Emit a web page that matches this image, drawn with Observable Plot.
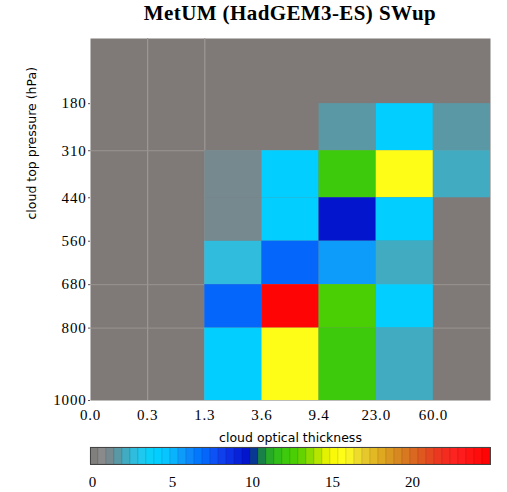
<!DOCTYPE html>
<html>
<head>
<meta charset="utf-8">
<script src="https://cdn.jsdelivr.net/npm/d3@7"></script>
<script src="https://cdn.jsdelivr.net/npm/@observablehq/plot@0.6"></script>
<style>
  html, body { margin: 0; padding: 0; background: #fff; }
  #wrap { position: relative; width: 507px; height: 492px; overflow: hidden; }
  #title { position: absolute; left: 90px; width: 400px; top: 1px; text-align: center;
           font-family: "Liberation Serif", serif; font-weight: bold; font-size: 21px; letter-spacing: 0.4px; color: #000; }
  #main { position: absolute; left: 0; top: 0; }
  #cbar { position: absolute; left: 0; top: 440px; }
</style>
</head>
<body>
<div id="wrap">
  <div id="cbar"></div>
  <div id="main"></div>
  <div id="title">MetUM (HadGEM3-ES) SWup</div>
</div>
<script>
// ---- data ----
const tauLabels = ["0.0", "0.3", "1.3", "3.6", "9.4", "23.0", "60.0"];
const pressureEdges = [0, 180, 310, 440, 560, 680, 800, 1000];
const pressureTicks = [180, 310, 440, 560, 680, 800, 1000];
// rows top (low pressure) to bottom; columns = optical thickness bins
const row0 = [0, 0, 0, 0, 0, 0, 0];
const row1 = [0, 0, 0, 0, 1.5, 4.1, 1.8];
const row2 = [0, 0, 1.0, 4.1, 12.3, 15.6, 2.2];
const row3 = [0, 0, 1.0, 4.1, 9.8, 4.1, 0];
const row4 = [0, 0, 2.8, 7.1, 5.6, 2.4, 0];
const row5 = [0, 0, 7.1, 24.6, 12.6, 4.1, 0];
const row6 = [0, 0, 4.1, 15.6, 12.3, 2.1, 0];
const rows = [row0, row1, row2, row3, row4, row5, row6];
const cbarTicks = [0, 5, 10, 15, 20];

// colormap stops (value -> colour)
const cmapStops = [0, 0.75, 1.0, 1.5, 2.0, 2.5, 3.0, 4.0, 5.0, 6.0, 7.0, 8.0, 9.0, 10.0, 10.5, 11.0, 12.0, 13.0, 14.0, 15.0, 16.0, 17.0, 18.0, 19.0, 20.0, 21.0, 22.0, 23.0, 25.0];
const cmapColors = ["#7d7977", "#8a8a8a", "#808486", "#6a8e98", "#4aa2b4", "#38b4d0", "#28c4e8", "#00d4ff", "#08c0ff", "#1090f8", "#0070ff", "#1048f0", "#0a28e0", "#0010c8", "#106060", "#20a030", "#38c810", "#50d000", "#a0e000", "#f8f800", "#ffff20", "#e8d030", "#e0b020", "#d89020", "#d87020", "#e05020", "#f03020", "#ff2020", "#ff0000"];

const interp = d3.scaleLinear().domain(cmapStops).range(cmapColors).interpolate(d3.interpolateRgb).clamp(true);
const step = 0.5;
const thresholds = d3.range(step, 25, step);
const binColors = [0, ...thresholds].map(t => interp(t + step / 2));
const colorScale = {type: "threshold", domain: thresholds, range: binColors};

const cells = [];
rows.forEach((r, i) => r.forEach((v, j) => cells.push({x1: j, x2: j + 1, y1: pressureEdges[i], y2: pressureEdges[i + 1], value: v})));

const serif = "'Liberation Serif', 'Times New Roman', serif";
const sans = "'DejaVu Sans', Verdana, sans-serif";

const main = Plot.plot({
  width: 507,
  height: 448,
  marginTop: 38,
  marginBottom: 48,
  marginLeft: 90,
  marginRight: 17,
  style: {background: "transparent"},
  x: {domain: [0, 7], axis: null},
  y: {domain: [0, 1000], reverse: true, axis: null},
  color: colorScale,
  marks: [
    Plot.frame({fill: "#7f7a78", stroke: null}),
    Plot.ruleX([1, 2], {stroke: "#9e9894", strokeWidth: 1.2}),
    Plot.ruleY([310, 680, 800], {stroke: "#9a9490", strokeWidth: 1}),
    Plot.rect(cells.filter(d => d.value > 0), {x1: "x1", x2: "x2", y1: "y1", y2: "y2", fill: "value", inset: 0}),
    Plot.axisX(d3.range(0, 7), {
      tickFormat: i => tauLabels[i], tickSize: 0, tickPadding: 9,
      fontFamily: serif, fontSize: 15, label: null, textAnchor: "middle"
    }),
    Plot.axisY(pressureTicks, {
      tickFormat: d => String(d),
      tickSize: 2, tickPadding: 2, fontFamily: serif, fontSize: 15, label: null, stroke: "#555"
    }),
    Plot.text(["cloud optical thickness"], {frameAnchor: "bottom", dy: 37, fontFamily: sans, fontSize: 12.5, fill: "#000", lineAnchor: "middle"}),
    Plot.text(["cloud top pressure (hPa)"], {frameAnchor: "left", dx: -59, rotate: -90, fontFamily: sans, fontSize: 12.5, fill: "#000", lineAnchor: "middle"})
  ]
});
main.querySelectorAll("text").forEach(t => { if (t.closest("[aria-label^='y-axis'], [aria-label^='x-axis']")) t.setAttribute("letter-spacing", "0.8"); });
document.getElementById("main").append(main);

// colour bar
const bins = [0, ...thresholds].map(t => ({x1: t, x2: t + step, value: t + step / 2}));
const cbar = Plot.plot({
  width: 507,
  height: 52,
  marginTop: 7,
  marginBottom: 28,
  marginLeft: 90,
  marginRight: 17,
  style: {background: "transparent"},
  x: {domain: [0, 25], axis: null},
  y: {domain: [0, 1], axis: null},
  color: colorScale,
  marks: [
    Plot.rect(bins, {x1: "x1", x2: "x2", y1: 0, y2: 1, fill: "value", stroke: "#000", strokeOpacity: 0.15, strokeWidth: 0.6}),
    Plot.frame({stroke: "#444", strokeWidth: 1}),
    Plot.axisX(cbarTicks, {tickSize: 0, tickPadding: 12, fontFamily: serif, fontSize: 15, label: null, dx: 2})
  ]
});
document.getElementById("cbar").append(cbar);
</script>
</body>
</html>
